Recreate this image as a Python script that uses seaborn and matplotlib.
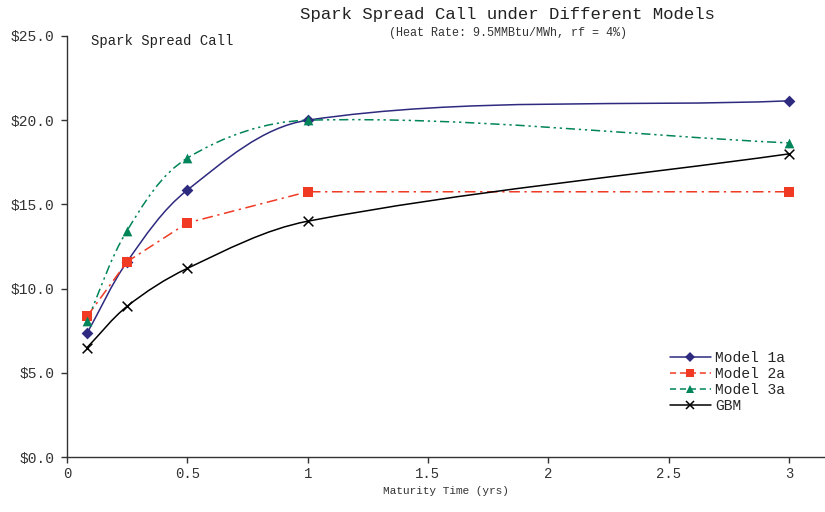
import matplotlib
matplotlib.use("Agg")
import matplotlib.pyplot as plt
from matplotlib.path import Path
from matplotlib.patches import PathPatch
from matplotlib.lines import Line2D
from matplotlib.ticker import FuncFormatter
import seaborn as sns
import pandas as pd
import numpy as np

# data
maturity = [1 / 12, 0.25, 0.5, 1.0, 3.0]
model_1a = [7.35, 11.6, 15.85, 20.0, 21.15]
model_2a = [8.35, 11.6, 13.9, 15.75, 15.75]
model_3a = [8.1, 13.45, 17.75, 20.0, 18.65]
gbm = [6.5, 8.95, 11.2, 14.0, 18.0]
series_names = ["Model 1a", "Model 2a", "Model 3a", "GBM"]
x_ticks = [0, 0.5, 1, 1.5, 2, 2.5, 3]
y_ticks = [0, 5, 10, 15, 20, 25]

df = pd.DataFrame({"maturity": maturity * 4,
                   "value": model_1a + model_2a + model_3a + gbm,
                   "series": sum([[s] * len(maturity) for s in series_names], [])})

colors = {"Model 1a": "#2e2a7f", "Model 2a": "#f03a24", "Model 3a": "#00845a", "GBM": "#000000"}
markers = {"Model 1a": "D", "Model 2a": "s", "Model 3a": "^", "GBM": "x"}
msizes = {"Model 1a": 6, "Model 2a": 7, "Model 3a": 7, "GBM": 7}
dashes = {"Model 1a": "-", "Model 2a": (0, (7, 3, 1.5, 3)),
          "Model 3a": (0, (6, 2.5, 1.5, 2.5, 1.5, 2.5)), "GBM": "-"}
smooth = {"Model 1a": True, "Model 2a": False, "Model 3a": True, "GBM": True}

# pixel size of one data unit, so the smoothing is done in screen space
SX, SY = 240.7, 16.84


def smooth_path(x, y, k=1.0):
    # Excel-like smoothed line: bezier segments with tangents scaled by segment length
    pts = np.column_stack([np.asarray(x) * SX, np.asarray(y) * SY])
    n = len(pts)
    tang = []
    for i in range(n):
        d = pts[min(i + 1, n - 1)] - pts[max(i - 1, 0)]
        tang.append(d / np.linalg.norm(d))
    verts = [pts[0]]
    codes = [Path.MOVETO]
    for i in range(n - 1):
        L = np.linalg.norm(pts[i + 1] - pts[i])
        verts += [pts[i] + tang[i] * L / 3 * k, pts[i + 1] - tang[i + 1] * L / 3 * k, pts[i + 1]]
        codes += [Path.CURVE4] * 3
    verts = np.array(verts) / [SX, SY]
    return Path(verts, codes)


sns.set_style("white")
plt.rcParams["font.family"] = ["Liberation Mono", "DejaVu Sans Mono"]

fig = plt.figure(figsize=(8.25, 5.12), dpi=100)
ax = fig.add_axes([67 / 825, 55 / 512, 758 / 825, 421 / 512])

for name in series_names:
    sub = df[df["series"] == name]
    if smooth[name]:
        ax.add_patch(PathPatch(smooth_path(sub["maturity"].values, sub["value"].values),
                               fill=False, edgecolor=colors[name], lw=1.1,
                               linestyle=dashes[name], zorder=2))
    else:
        sns.lineplot(data=sub, x="maturity", y="value", color=colors[name], lw=1.1,
                     linestyle=dashes[name], ax=ax, zorder=2, legend=False)
    sns.scatterplot(data=sub, x="maturity", y="value", color=colors[name],
                    marker=markers[name], s=msizes[name] ** 2,
                    linewidth=1.1 if name == "GBM" else 0, ax=ax, zorder=3, legend=False)

ax.set_xlim(0, 3.15)
ax.set_ylim(0, 25)
ax.set_xticks(x_ticks)
ax.set_yticks(y_ticks)
ax.xaxis.set_major_formatter(FuncFormatter(lambda v, _: f"{v:g}"))
ax.yaxis.set_major_formatter(FuncFormatter(lambda v, _: f"${v:.1f}"))
sns.despine(ax=ax)
for sp in ["left", "bottom"]:
    ax.spines[sp].set_color("#333333")
    ax.spines[sp].set_linewidth(1)
ax.tick_params(axis="y", direction="out", length=4, width=1, pad=5,
               labelsize=10.5, colors="#333333", left=True)
ax.tick_params(axis="x", direction="out", length=4, width=1, pad=3,
               labelsize=10, colors="#333333", bottom=True)
ax.set_xlabel("Maturity Time (yrs)", fontsize=8, color="#333333", labelpad=4)
ax.set_ylabel("")

fig.text(508 / 825, 1 - 14 / 512, "Spark Spread Call under Different Models",
         ha="center", va="center", fontsize=12.5, color="#222222")
fig.text(508 / 825, 1 - 33 / 512, "(Heat Rate: 9.5MMBtu/MWh, rf = 4%)",
         ha="center", va="center", fontsize=8.5, color="#333333")
ax.text(24 / 758, (457 - 41) / 421, "Spark Spread Call", transform=ax.transAxes,
        ha="left", va="center", fontsize=10, color="#222222")

handles = [Line2D([], [], color=colors[n], marker=markers[n], markersize=msizes[n] - 1,
                  lw=1.1, linestyle="-" if n in ("Model 1a", "GBM") else (0, (4, 2.5)),
                  markeredgewidth=1.1 if n == "GBM" else 0)
           for n in series_names]
ax.legend(handles, ["Model 1a", "Model 2a", "Model 3a", "GBM"], frameon=False,
          loc="upper left", bbox_to_anchor=((664 - 67) / 758, (457 - 345) / 421),
          fontsize=10.5, handlelength=2.8, handletextpad=0.3, labelspacing=0.15,
          borderaxespad=0)

fig.savefig("out.png", dpi=100)
